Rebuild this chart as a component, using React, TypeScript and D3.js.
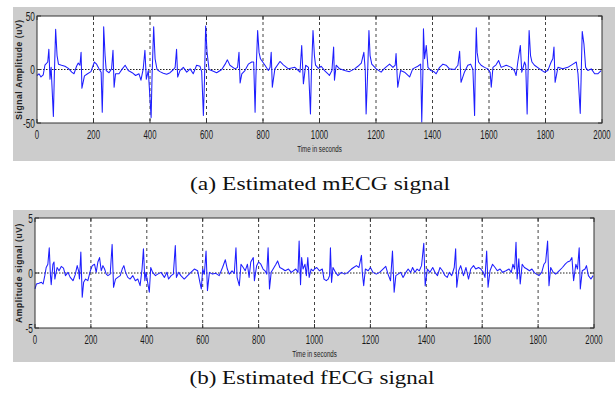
import { line, scaleLinear } from "d3";

// time axis shared by both panels
const xTicks = [0, 200, 400, 600, 800, 1000, 1200, 1400, 1600, 1800, 2000];
const gridTicks = [200, 400, 600, 800, 1000, 1200, 1400, 1600, 1800];

const mecgYTicks = [-50, 0, 50];
const fecgYTicks = [-5, 0, 5];

// (a) estimated maternal ECG, [time, amplitude uV]
const mecg: [number, number][] = [
  [0, -5.6], [7, -4], [14, -7], [22, -5], [28, 4], [38, 7], [42, 19], [46, -9], [50, 2],
  [58, -44], [61, -9], [66, 37.5], [71, 13], [76, 5], [87, 4], [99, 3], [111, 1], [123, -2.5],
  [131, -4], [140, 3], [146, 6], [152, 4], [156, 16], [159, -17.5], [168, -6], [179, -4],
  [191, -2], [203, 7], [211, 5], [219, 1], [227, -2.5], [231, -40], [234, -6], [236, 40],
  [241, 13], [245, -1], [255, -3], [264, 0.6], [269, 18], [273, -16.5], [278, -4], [290, -4],
  [302, 0.6], [312, 4], [323, -1], [337, -3], [349, -5.6], [361, -4], [368, -10], [376, 0.6],
  [382, 18], [387, -9], [394, -1], [404, -45], [407, -9], [413, 40], [418, 10], [425, 0],
  [435, -2], [447, -3.5], [459, -4.4], [471, -3], [483, 0], [489, 2], [494, 19], [498, -7],
  [506, -1], [518, 2], [530, -2.5], [542, 0.6], [553, -4], [565, 4], [577, 3], [583, -2],
  [589, -43], [593, -9], [597, 40.6], [602, 16], [609, 0], [618, -1], [636, -3], [654, 0],
  [666, 5], [674, 9], [683, 4], [701, 0.6], [710, 2], [715, 16], [719, -12.5], [725, -4],
  [736, -1], [748, 5], [760, 7], [767, 7], [772, -40], [775, -6], [781, 36.5], [786, 16],
  [791, 10], [807, 4], [819, -1], [825, 2], [829, 16], [833, -16.5], [842, 0.6], [860, 7.5],
  [872, 4.4], [890, 0.6], [913, 2], [931, -2.5], [937, 22.5], [943, -13.4], [951, 4], [961, 2],
  [968, -41.6], [971, -6], [977, 36.5], [982, 13], [986, 4], [996, 1],
  [1006, 3], [1018, -1], [1030, -4], [1035, -5.6], [1044, -1], [1050, 21], [1053, -10],
  [1059, 4], [1071, 0.6], [1089, -1], [1106, -2], [1124, 0.6], [1136, 3], [1148, 6],
  [1157, 16], [1162, -1], [1165, -41.6], [1170, -6], [1175, 36.5], [1179, 13], [1185, 5],
  [1201, 0.6], [1218, -2.5], [1230, 1], [1248, 5], [1260, 2], [1268, 4], [1271, 15],
  [1277, -16.5], [1287, -1], [1301, -2.5], [1319, -7], [1330, 0.6], [1348, 3], [1358, 5],
  [1362, -49], [1366, -2.5], [1368, 38], [1372, 10], [1378, 22.5], [1384, 2], [1394, -1],
  [1405, -2], [1413, -4], [1425, 2], [1437, 5], [1448, 4], [1460, 0.6], [1478, 0], [1490, 4],
  [1496, 17], [1501, -12], [1513, -2.5], [1525, 4], [1535, 5], [1543, 0], [1549, -43],
  [1551, -6], [1555, 39], [1558, 16], [1563, 7], [1572, 4], [1584, 2], [1596, 0.6],
  [1604, -2.5], [1608, -16.5], [1614, 2], [1625, 4.4], [1634, 8.4], [1643, 2], [1661, 4],
  [1679, 2], [1690, -1], [1696, -5.6], [1702, 7], [1711, 22.5], [1716, -2.5], [1726, 7],
  [1730, 4], [1735, -41.6], [1738, -6], [1742, 36.5], [1747, 13], [1752, 7], [1761, 4],
  [1779, 0.6], [1796, -2.5], [1808, -1], [1820, 7], [1826, 10], [1830, 21], [1834, -12],
  [1844, 2], [1861, 0.6], [1879, 2], [1897, 5], [1909, 7], [1915, -4], [1923, -41], [1926, -9],
  [1930, 35.6], [1936, 24], [1942, 2], [1950, -1], [1962, 0.6], [1974, -4], [1985, -4], [1997, -1],
];

// (b) estimated fetal ECG, [time, amplitude uV]
const fecg: [number, number][] = [
  [0, -1.45], [5, -1.0], [14, -0.94], [23, -0.85], [29, -1.0], [35, -0.24], [40, 0.5], [46, 0.8],
  [51, 2.3], [55, -0.1], [58, -1.06], [64, 0.8], [68, 1.0], [71, -0.55], [79, 0.5], [86, 0.2],
  [94, 0.6], [102, 0.45], [109, -0.24], [118, 0.06], [126, -0.4], [136, -0.7], [144, -0.15],
  [151, 0.67], [156, 0.2], [159, -0.55], [164, 1.9], [169, -2.2], [174, -0.85], [181, -0.55],
  [189, -0.7], [198, 0.2], [205, 0.67], [213, 0.8], [219, 0.06], [225, 1.0], [231, 1.4],
  [237, 0.2], [243, 0.67], [249, 0.36], [255, -0.1], [261, -0.24], [269, -0.1], [276, 2.6],
  [281, -1.3], [288, -0.55], [296, -0.4], [305, -0.24], [312, 0.36], [318, 0.67], [324, 0.06],
  [332, -0.4], [340, -0.55], [350, -0.24], [359, -0.7], [368, -0.55], [376, -1.15], [383, 0.36],
  [388, 2.2], [393, -0.7], [397, 0.06], [403, -0.85], [409, -1.75], [414, 0.5], [421, 0.06],
  [431, -0.24], [439, -0.1], [451, 0.06], [463, -0.4], [472, 0.06], [478, -0.55], [487, -0.24],
  [495, -0.1], [502, 2.5], [506, -0.4], [514, 0.06], [522, -0.24], [534, -0.55], [546, -0.24],
  [558, 0.06], [570, 0.36], [582, 0.2], [590, -0.85], [595, -1.45], [600, 0.36], [606, -0.1],
  [612, 2.0], [617, -1.6], [624, 0.06], [635, -0.1], [647, -0.03], [659, -0.24], [671, 0.5],
  [681, 1.2], [688, 0.36], [695, -0.1], [705, 0.2], [713, -0.03], [719, 2.3], [723, -0.4],
  [731, -1.15], [737, 0.8], [745, 0.5], [752, 0.2], [760, 0.8], [766, -0.4], [772, 1.0],
  [781, 1.4], [785, -0.7], [793, 0.67], [800, 1.0], [808, 0.8], [816, 0.36], [823, 0.2],
  [829, -0.1], [834, 2.3], [839, -1.45], [845, 0.06], [852, 0.36], [862, 0.8], [868, 1.1],
  [876, 0.5], [886, 0.36], [895, 0.2], [907, 0.36], [917, 0.06], [933, 0.36], [941, 0.06],
  [945, 2.9], [950, -1.06], [954, 1.4], [959, 0.36], [966, 0.8], [971, -0.24], [976, 1.4],
  [981, -0.4], [988, 0.36], [995, 0.2],
  [1000, 0.36], [1008, 0.5], [1018, 0.2], [1028, 0.36], [1034, -0.55], [1042, -0.7],
  [1049, -0.55], [1054, -0.24], [1057, 2.3], [1061, -0.85], [1066, 0.5], [1075, 0.06],
  [1084, -0.24], [1096, 0.06], [1108, -0.1], [1120, 0.06], [1132, 0.36], [1140, 0.5],
  [1150, 0.67], [1159, 0.5], [1168, 1.6], [1171, 0.06], [1176, -1.15], [1182, 0.36],
  [1192, 0.2], [1200, 0.5], [1209, 0.06], [1221, -0.1], [1233, 0.06], [1245, 0.36],
  [1255, 0.6], [1263, -0.1], [1272, -0.7], [1279, 2.0], [1285, -1.75], [1291, -0.24],
  [1299, -0.1], [1308, 0.06], [1317, -0.4], [1327, 0.06], [1335, 0.36], [1344, 0.06],
  [1351, 0.5], [1359, 0.06], [1367, 0.36], [1375, 0.2], [1383, 0.67], [1391, 2.7],
  [1396, -1.15], [1404, 0.36], [1413, 0.06], [1423, 0.5], [1431, 0.06], [1440, -0.24],
  [1449, 0.5], [1458, 0.2], [1467, -0.24], [1475, -0.4], [1482, 0.06], [1491, -0.24],
  [1500, 0.5], [1505, 2.2], [1509, -1.3], [1516, 0.2], [1523, 0.67], [1533, -0.24],
  [1542, 0.5], [1551, -0.55], [1559, 0.36], [1569, 0.67], [1577, 0.36], [1587, 0.5],
  [1595, 0.36], [1604, 0.06], [1610, -0.4], [1616, 2.0], [1621, -1.3], [1628, 0.2],
  [1637, 0.8], [1646, 0.5], [1654, 0.2], [1664, 0.36], [1673, 0.06], [1685, 0.2],
  [1696, 0.36], [1704, 0.06], [1710, 0.8], [1716, 0.36], [1721, 2.8], [1725, -0.55],
  [1731, 1.3], [1736, -1.0], [1743, 0.8], [1751, 0.5], [1760, 0.36], [1769, 0.2],
  [1778, 0.36], [1786, 0.06], [1794, -0.1], [1803, -0.24], [1813, 0.06], [1821, 0.8],
  [1827, 1.0], [1834, 2.9], [1839, -1.15], [1845, 0.5], [1854, 0.06], [1863, -0.1],
  [1875, 0.2], [1887, 0.5], [1897, 0.8], [1905, 1.0], [1914, 1.1], [1921, 1.4], [1927, -0.7],
  [1935, 0.8], [1941, 0.36], [1947, 2.3], [1951, -1.45], [1958, 0.2], [1968, 0.36],
  [1973, 0.67], [1980, -0.24], [1989, -0.55], [1997, -0.24],
];

const FONT = "Liberation Sans, Arial, sans-serif";

type PanelProps = {
  data: [number, number][];
  yTicks: number[];
  yLabel: string;
  frame: { x: number; y: number; w: number; h: number };
  plot: { left: number; right: number; top: number; bottom: number };
};

function Panel({ data, yTicks, yLabel, frame, plot }: PanelProps) {
  const x = scaleLinear().domain([0, 2000]).range([plot.left, plot.right]);
  const y = scaleLinear()
    .domain([yTicks[0], yTicks[yTicks.length - 1]])
    .range([plot.bottom, plot.top]);

  const signal = line<[number, number]>()
    .x((d) => x(d[0]))
    .y((d) => y(d[1]));

  const midX = (plot.left + plot.right) / 2;
  const midY = (plot.top + plot.bottom) / 2;

  return (
    <g>
      <rect x={frame.x} y={frame.y} width={frame.w} height={frame.h} fill="#cccccc" />
      <rect
        x={plot.left}
        y={plot.top}
        width={plot.right - plot.left}
        height={plot.bottom - plot.top}
        fill="#ffffff"
      />

      {/* grid */}
      {gridTicks.map((t) => (
        <line
          key={t}
          x1={x(t)}
          x2={x(t)}
          y1={plot.top}
          y2={plot.bottom}
          stroke="#444"
          strokeWidth={1}
          strokeDasharray="3 3"
        />
      ))}
      <line
        x1={plot.left}
        x2={plot.right}
        y1={y(0)}
        y2={y(0)}
        stroke="#222"
        strokeWidth={1}
        strokeDasharray="1.5 1.5"
      />

      <path
        d={signal(data) ?? ""}
        fill="none"
        stroke="#1e1eff"
        strokeWidth={1.05}
        strokeLinejoin="round"
      />

      {/* box + ticks */}
      <rect
        x={plot.left}
        y={plot.top}
        width={plot.right - plot.left}
        height={plot.bottom - plot.top}
        fill="none"
        stroke="#333"
        strokeWidth={1}
      />
      {xTicks.map((t) => (
        <g key={t}>
          <line x1={x(t)} x2={x(t)} y1={plot.bottom} y2={plot.bottom - 4} stroke="#333" />
          <line x1={x(t)} x2={x(t)} y1={plot.top} y2={plot.top + 4} stroke="#333" />
          <text
            transform={`translate(${x(t)},${plot.bottom + 16}) scale(0.6,1)`}
            textAnchor="middle"
            fontSize={13}
            fontFamily={FONT}
            fill="#1a1a1a"
          >
            {t}
          </text>
        </g>
      ))}
      {yTicks.map((t) => (
        <g key={t}>
          <line x1={plot.left} x2={plot.left + 4} y1={y(t)} y2={y(t)} stroke="#333" />
          <line x1={plot.right} x2={plot.right - 4} y1={y(t)} y2={y(t)} stroke="#333" />
          <text
            transform={`translate(${plot.left - 2},${y(t) + 4.5}) scale(0.64,1)`}
            textAnchor="end"
            fontSize={13}
            fontFamily={FONT}
            fill="#1a1a1a"
          >
            {t}
          </text>
        </g>
      ))}

      <text
        transform={`translate(${midX},${plot.bottom + 29}) scale(0.65,1)`}
        textAnchor="middle"
        fontSize={9.5}
        fontFamily={FONT}
        fill="#222"
      >
        Time in seconds
      </text>
      <text
        transform={`translate(${frame.x + 9},${midY}) rotate(-90)`}
        textAnchor="middle"
        fontSize={8.5}
        fontWeight="bold"
        letterSpacing={0.6}
        fontFamily={FONT}
        fill="#222"
      >
        {yLabel}
      </text>
    </g>
  );
}

export default function App() {
  return (
    <svg
      width={615}
      height={399}
      viewBox="0 0 615 399"
      style={{ position: "absolute", left: 0, top: 0, background: "#fff" }}
    >
      <Panel
        data={mecg}
        yTicks={mecgYTicks}
        yLabel="Signal Amplitude (uV)"
        frame={{ x: 13, y: 7, w: 602, h: 154 }}
        plot={{ left: 37, right: 602, top: 16, bottom: 123 }}
      />
      <text
        x={320}
        y={190}
        textAnchor="middle"
        fontSize={18}
        fontFamily="Liberation Serif, serif"
        textLength={260}
        lengthAdjust="spacingAndGlyphs"
        fill="#111"
      >
        (a) Estimated mECG signal
      </text>

      <Panel
        data={fecg}
        yTicks={fecgYTicks}
        yLabel="Amplitude signal (uV)"
        frame={{ x: 13, y: 210, w: 602, h: 152 }}
        plot={{ left: 35, right: 594, top: 218, bottom: 328 }}
      />
      <text
        x={312}
        y={384}
        textAnchor="middle"
        fontSize={18}
        fontFamily="Liberation Serif, serif"
        textLength={245}
        lengthAdjust="spacingAndGlyphs"
        fill="#111"
      >
        (b) Estimated fECG signal
      </text>
    </svg>
  );
}
